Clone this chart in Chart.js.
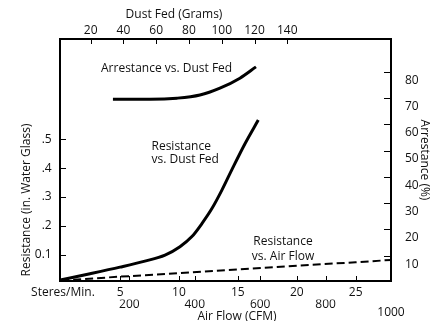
<!DOCTYPE html>
<html>
<head>
<meta charset="utf-8">
<script src="https://cdn.jsdelivr.net/npm/chart.js@4.4.1/dist/chart.umd.min.js"></script>
<style>
    html, body { margin: 0; padding: 0; background: #fff; }
    #wrap { width: 444px; height: 321px; }
</style>
</head>
<body>
<div id="wrap"><canvas id="chart" width="444" height="321"></canvas></div>
<script>
// Resistance vs. dust fed (top axis grams, left axis in. water)
const dustFedGrams = [1.3, 19.6, 37.9, 53.1, 65.4, 74.5, 81.8, 87.9, 94.0, 100.1, 106.2, 114.1, 122.3];
const resistanceDust = [0.012, 0.034, 0.057, 0.078, 0.099, 0.128, 0.163, 0.208, 0.26, 0.324, 0.395, 0.484, 0.567];

// Arrestance vs. dust fed (top axis grams, right axis %)
const arrestGrams = [33.6, 56.2, 72.7, 86.7, 98.9, 111.1, 120.9];
const arrestance = [69.5, 69.5, 69.9, 71.1, 73.7, 77.5, 81.8];

// Resistance vs. air flow (bottom axis steres/min)
const airFlowSteres = [0, 5, 10, 15, 20, 25, 28];
const resistanceAir = [0.011, 0.024, 0.036, 0.049, 0.062, 0.074, 0.082];

// tick labels
const gramTicks = [20, 40, 60, 80, 100, 120, 140];
const stereTicks = [5, 10, 15, 20, 25];
const cfmTicks = [200, 400, 600, 800, 1000];
const resistanceTicks = [0.1, 0.2, 0.3, 0.4, 0.5];
const resistanceLabels = ['0.1', '.2', '.3', '.4', '.5'];
const arrestanceTicks = [10, 20, 30, 40, 50, 60, 70, 80];

const FONT = 'Open Sans';
const INK = '#111';

function pts(xs, ys) {
    return xs.map((x, i) => ({x: x, y: ys[i]}));
}

const frameAndMarks = {
    id: 'frameAndMarks',
    afterDraw(chart) {
        const ctx = chart.ctx;
        const a = chart.chartArea;
        const s = chart.scales;
        ctx.save();
        ctx.strokeStyle = '#000';
        ctx.lineWidth = 1;
        ctx.beginPath();
        gramTicks.forEach(v => {
            const px = Math.round(s.xTop.getPixelForValue(v)) + 0.5;
            ctx.moveTo(px, a.top); ctx.lineTo(px, a.top + 5);
        });
        stereTicks.forEach(v => {
            const px = Math.round(s.x.getPixelForValue(v)) + 0.5;
            ctx.moveTo(px, a.bottom); ctx.lineTo(px, a.bottom - 5);
        });
        cfmTicks.slice(0, 4).forEach(v => {
            const px = Math.round(s.x2.getPixelForValue(v)) + 0.5;
            ctx.moveTo(px, a.bottom); ctx.lineTo(px, a.bottom - 5);
        });
        resistanceTicks.forEach(v => {
            const py = Math.round(s.y.getPixelForValue(v)) + 0.5;
            ctx.moveTo(a.left, py); ctx.lineTo(a.left + 6, py);
        });
        arrestanceTicks.forEach(v => {
            const py = Math.round(s.y2.getPixelForValue(v)) + 0.5;
            ctx.moveTo(a.right, py); ctx.lineTo(a.right - 7, py);
        });
        ctx.stroke();

        ctx.lineWidth = 2;
        ctx.strokeRect(a.left, a.top, a.right - a.left, a.bottom - a.top);

        // axis titles and curve notes
        ctx.fillStyle = INK;
        ctx.font = '12px "' + FONT + '"';
        ctx.textBaseline = 'middle';
        ctx.textAlign = 'center';
        ctx.fillText('Dust Fed (Grams)', 174, 15);
        ctx.fillText('Air Flow (CFM)', 237, 316.5);
        ctx.fillText('Resistance', 283, 242);
        ctx.fillText('vs. Air Flow', 283, 256.5);
        ctx.textAlign = 'left';
        ctx.fillText('Arrestance vs. Dust Fed', 101, 68.5);
        ctx.fillText('Resistance', 151.5, 146.5);
        ctx.fillText('vs. Dust Fed', 151.5, 160);

        ctx.translate(27, 200);
        ctx.rotate(-Math.PI / 2);
        ctx.textAlign = 'center';
        ctx.fillText('Resistance (in. Water Glass)', 0, 0);
        ctx.restore();
    }
};

const tickFont = {family: FONT, size: 12};
const noGrid = {display: false, drawTicks: false};

function fixed(list) {
    return function(scale) {
        scale.ticks = list.map(v => ({value: v}));
    };
}

new Chart(document.getElementById('chart').getContext('2d'), {
    type: 'scatter',
    data: {
        datasets: [
            {
                label: 'Resistance vs. Dust Fed',
                data: pts(dustFedGrams, resistanceDust),
                xAxisID: 'xTop',
                yAxisID: 'y',
                showLine: true,
                borderColor: '#000',
                borderWidth: 3,
                pointRadius: 0,
                cubicInterpolationMode: 'monotone',
            },
            {
                label: 'Arrestance vs. Dust Fed',
                data: pts(arrestGrams, arrestance),
                xAxisID: 'xTop',
                yAxisID: 'y2',
                showLine: true,
                borderColor: '#000',
                borderWidth: 3,
                pointRadius: 0,
                cubicInterpolationMode: 'monotone',
            },
            {
                label: 'Resistance vs. Air Flow',
                data: pts(airFlowSteres, resistanceAir),
                xAxisID: 'x',
                yAxisID: 'y',
                showLine: true,
                borderColor: '#000',
                borderWidth: 2,
                borderDash: [8, 4],
                pointRadius: 0,
            },
        ],
    },
    options: {
        responsive: false,
        animation: false,
        layout: {padding: 0},
        plugins: {
            legend: {display: false},
            tooltip: {enabled: false},
        },
        scales: {
            x: {
                type: 'linear',
                position: 'bottom',
                min: -0.1,
                max: 28,
                weight: 0,
                afterBuildTicks: fixed([0.15].concat(stereTicks)),
                afterFit: function(scale) { scale.height = 18.5; },
                grid: noGrid,
                border: {display: false},
                ticks: {
                    autoSkip: false,
                    maxRotation: 0,
                    padding: 4,
                    color: INK,
                    font: tickFont,
                    callback: function(value) {
                        return value === 0.15 ? 'Steres/Min.' : value;
                    }
                },
            },
            x2: {
                type: 'linear',
                position: 'bottom',
                min: -12,
                max: 1000,
                weight: 1,
                afterBuildTicks: fixed(cfmTicks),
                afterFit: function(scale) { scale.height = 21.5; },
                grid: noGrid,
                border: {display: false},
                ticks: {
                    autoSkip: false,
                    maxRotation: 0,
                    padding: 0.6,
                    color: INK,
                    font: {family: FONT, size: 12, lineHeight: 0.7},
                    callback: function(value) {
                        return value === 1000 ? ['', '1000'] : value;
                    }
                },
            },
            xTop: {
                type: 'linear',
                position: 'top',
                min: 1.3,
                max: 203.3,
                afterBuildTicks: fixed(gramTicks),
                afterFit: function(scale) { scale.height = 39; },
                grid: noGrid,
                border: {display: false},
                ticks: {
                    autoSkip: false,
                    maxRotation: 0,
                    padding: 1.3,
                    color: INK,
                    font: tickFont,
                },
            },
            y: {
                type: 'linear',
                position: 'left',
                min: 0.009,
                max: 0.848,
                afterBuildTicks: fixed(resistanceTicks),
                afterFit: function(scale) { scale.width = 60; },
                grid: noGrid,
                border: {display: false},
                ticks: {
                    autoSkip: false,
                    padding: 8.3,
                    color: INK,
                    font: tickFont,
                    callback: function(value) {
                        return resistanceLabels[resistanceTicks.indexOf(value)];
                    }
                },
            },
            y2: {
                type: 'linear',
                position: 'right',
                min: 0.38,
                max: 92.4,
                afterBuildTicks: fixed(arrestanceTicks),
                afterFit: function(scale) { scale.width = 53; },
                grid: noGrid,
                border: {display: false},
                title: {
                    display: true,
                    text: 'Arrestance (%)',
                    color: INK,
                    font: {family: FONT, size: 12},
                    padding: {top: 12.8, bottom: 0},
                },
                ticks: {
                    autoSkip: false,
                    padding: 14,
                    labelOffset: 8.5,
                    color: INK,
                    font: tickFont,
                },
            },
        },
    },
    plugins: [frameAndMarks],
});
</script>
</body>
</html>
